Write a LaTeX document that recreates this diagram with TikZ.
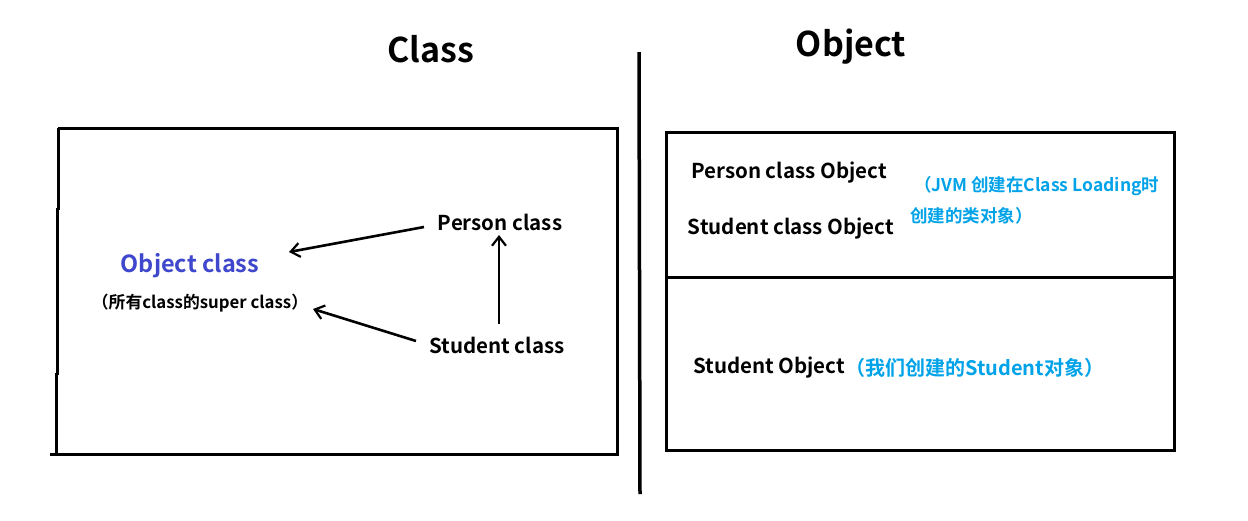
\documentclass[tikz,border=0pt]{standalone}
\usepackage{fontspec}
\setmainfont{Noto Sans CJK SC}[BoldFont={* Bold}]
\definecolor{objblue}{RGB}{63,72,204}
\definecolor{noteblue}{RGB}{0,162,232}
\begin{document}
\begin{tikzpicture}[x=1pt,y=-1pt,
  frame/.style={line width=3pt},
  arr/.style={line width=2.6pt,-{Straight Barb[length=9pt,width=14pt,line width=2.2pt]}},
  lbl/.style={font=\bfseries\fontsize{20.5}{22}\selectfont, inner sep=0pt},
  note/.style={font=\bfseries\fontsize{17.5}{19}\selectfont, text=noteblue, inner sep=0pt, anchor=west},
  title/.style={font=\bfseries\fontsize{34}{38}\selectfont, inner sep=0pt}]
\useasboundingbox (0,0) rectangle (1248,520);
\usetikzlibrary{arrows.meta}
% titles
\node[title] (tclass) at (431,49) {Class};
\node[title] (tobj) at (851,47) {Object};
% divider
\coordinate (dtop) at (639,52);
\coordinate (dbot) at (640,494);
\draw[line width=3.5pt] (dtop) -- (dbot);
% left box
\draw[frame] (58,128) -- (617,128) -- (617,454) -- (50,454);
\draw[frame] (58,128) -- (58,210);
\draw[frame] (57,208) -- (57,375);
\draw[frame] (56,373) -- (56,456);
% right box
\draw[frame] (666,132) rectangle (1174,450);
\draw[frame] (666,277) -- (1174,277);
% left content
\node[font=\bfseries\fontsize{23.5}{25}\selectfont, text=objblue, inner sep=0pt] (objc) at (190,266) {Object class};
\node[font=\bfseries\fontsize{16.8}{18}\selectfont, inner sep=0pt] (super) at (200,303) {（所有class的super class）};
\node[lbl] (person) at (500,222) {Person class};
\node[lbl] (student) at (497,345) {Student class};
\coordinate (a1s) at (424,227);
\coordinate (a1e) at (289,252);
\coordinate (a2s) at (416,341);
\coordinate (a2e) at (313,309);
\coordinate (a3s) at (499,324);
\coordinate (a3e) at (499,235);
\draw[arr] (a1s) -- (a1e);
\draw[arr] (a2s) -- (a2e);
\draw[arr] (a3s) -- (a3e);
% right content
\node[lbl] (pco) at (789,173) {Person class Object};
\node[lbl] (sco) at (791,229) {Student class Object};
\node[note] (n1) at (914,186) {（JVM 创建在Class Loading时};
\node[note] (n2) at (910,216) {创建的类对象）};
\node[lbl, anchor=west] (so) at (693,368) {Student Object};
\node[note, font=\bfseries\fontsize{20}{22}\selectfont, anchor=west] (n3) at (so.east) {（我们创建的Student对象）};
\end{tikzpicture}
\end{document}
